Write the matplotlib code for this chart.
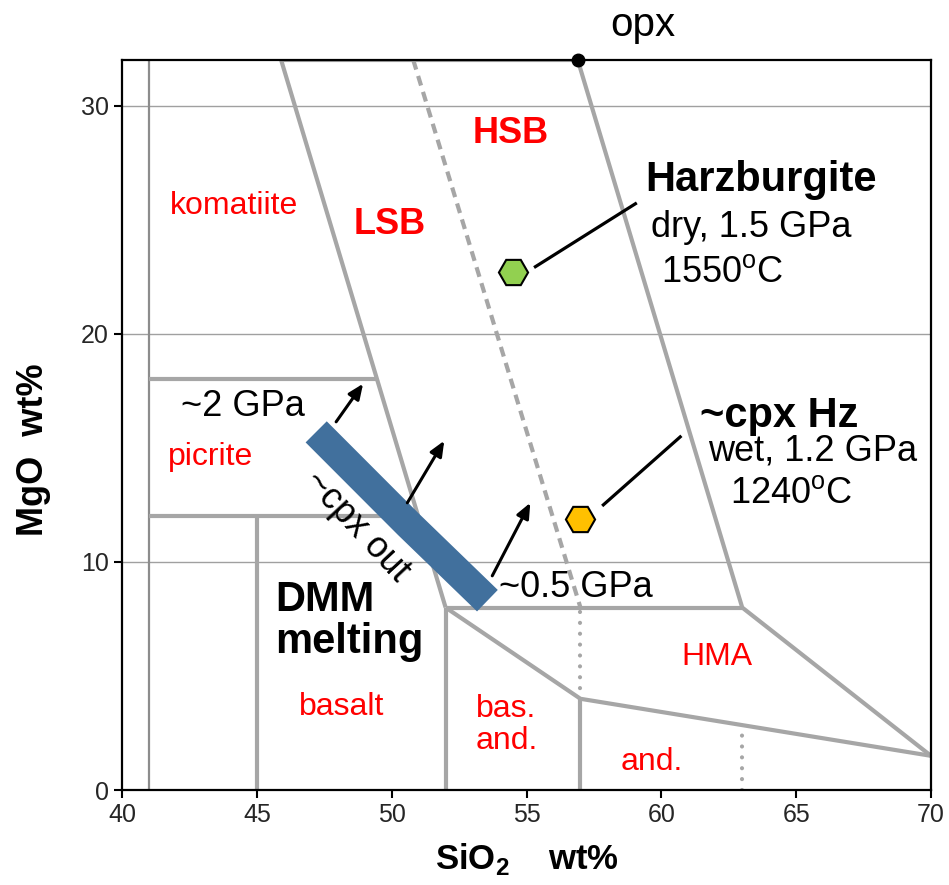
import numpy as np
import matplotlib.pyplot as plt

plt.rcParams['font.family'] = ['Liberation Sans', 'DejaVu Sans']
plt.rcParams['mathtext.fontset'] = 'custom'
plt.rcParams['mathtext.rm'] = 'Liberation Sans'
plt.rcParams['mathtext.bf'] = 'Liberation Sans:bold'

# field boundaries (SiO2, MgO)
komatiite_x = [41, 41]
komatiite_y = [0, 32]
picrite_top_x = [41, 49.46]
picrite_top_y = [18, 18]
picrite_bot_x = [41, 51]
picrite_bot_y = [12, 12]
basalt_left_x = [45, 45]
basalt_left_y = [0, 12]
lsb_x = [45.9, 52]
lsb_y = [32, 8]
top_x = [45.9, 56.9]
top_y = [32, 32]
opx_line_x = [56.9, 63, 70]
opx_line_y = [32, 8, 1.5]
hma_top_x = [52, 63]
hma_top_y = [8, 8]
and_top_x = [52, 57, 70]
and_top_y = [8, 4, 1.5]
bas_and_x = [52, 52]
bas_and_y = [0, 8]
and_left_x = [57, 57]
and_left_y = [0, 4]
hsb_x = [50.8, 57]
hsb_y = [32, 8]
dot1_x = [57, 57]
dot1_y = [4, 8]
dot2_x = [63, 63]
dot2_y = [0, 2.85]

# cpx-out band
band_x = [47.2, 50.62, 53.55]
band_y = [15.7, 11.65, 8.3]

# melting arrows (start, end)
arrows = [((47.94, 16.14), (48.94, 17.81)),
          ((50.58, 12.59), (51.95, 15.31)),
          ((53.73, 9.39), (55.14, 12.59))]

opx = (56.9, 32)
hz = (54.5, 22.7)
cpx_hz = (57.0, 11.9)

gray = '#A6A6A6'

fig = plt.figure(figsize=(9.49, 8.85), dpi=100)
ax = fig.add_axes([0.1286, 0.1073, 0.8524, 0.8249])

ax.plot(komatiite_x, komatiite_y, color='#8C8C8C', lw=1.6)
for xs, ys in [(picrite_top_x, picrite_top_y), (picrite_bot_x, picrite_bot_y),
               (basalt_left_x, basalt_left_y), (lsb_x, lsb_y), (top_x, top_y),
               (opx_line_x, opx_line_y), (hma_top_x, hma_top_y),
               (and_top_x, and_top_y), (bas_and_x, bas_and_y),
               (and_left_x, and_left_y)]:
    ax.plot(xs, ys, color=gray, lw=3, solid_capstyle='butt', solid_joinstyle='miter')
ax.plot(hsb_x, hsb_y, color=gray, lw=3, linestyle=(0, (2.4, 1.6)), dash_capstyle='butt')
for xs, ys in [(dot1_x, dot1_y), (dot2_x, dot2_y)]:
    ax.plot(xs, ys, color=gray, lw=3, linestyle=(0, (0.01, 2.6)), dash_capstyle='round')

ax.plot(band_x, band_y, color='#41709D', lw=21.5, solid_capstyle='butt',
        solid_joinstyle='round', zorder=4)

for (x0, y0), (x1, y1) in arrows:
    ax.annotate('', xy=(x1, y1), xytext=(x0, y0),
                arrowprops=dict(arrowstyle='-|>,head_length=0.7,head_width=0.3',
                                color='black', lw=2.2, shrinkA=0, shrinkB=0,
                                mutation_scale=13),
                zorder=5)

# connectors to the labels
ax.plot([55.33, 59.04], [22.94, 25.70], color='black', lw=2.3)
ax.plot([57.85, 60.7], [12.5, 15.48], color='black', lw=2.3)

ax.plot(*opx, 'o', color='black', ms=9, clip_on=False, zorder=6)
ax.plot(*hz, 'H', color='#92D050', mec='black', mew=1.5, ms=21, zorder=6)
ax.plot(*cpx_hz, 'H', color='#FFC000', mec='black', mew=1.5, ms=21, zorder=6)

red = '#FF0000'
ax.text(59.3, 33.55, 'opx', fontsize=29, ha='center', va='center')
ax.text(41.78, 25.6, 'komatiite', fontsize=23, color=red, va='center')
ax.text(48.57, 24.8, 'LSB', fontsize=26, color=red, weight='bold', va='center')
ax.text(53.0, 28.8, 'HSB', fontsize=26, color=red, weight='bold', va='center')
ax.text(59.4, 26.75, 'Harzburgite', fontsize=30, weight='bold', va='center')
ax.text(59.6, 24.65, 'dry, 1.5 GPa', fontsize=26, va='center')
ax.text(60.0, 22.7, '1550$^\\mathregular{o}$C', fontsize=26, va='center')
ax.text(61.45, 16.4, '~cpx Hz', fontsize=30, weight='bold', va='center')
ax.text(61.75, 14.87, 'wet, 1.2 GPa', fontsize=26, va='center')
ax.text(62.55, 13.0, '1240$^\\mathregular{o}$C', fontsize=26, va='center')
ax.text(42.2, 16.8, '~2 GPa', fontsize=26, va='center')
ax.text(41.7, 14.6, 'picrite', fontsize=23, color=red, va='center')
ax.text(48.7, 11.55, '~cpx out', fontsize=26, rotation=-47, ha='center', va='center',
        rotation_mode='anchor')
ax.text(53.99, 8.86, '~0.5 GPa', fontsize=26, va='center', zorder=5)
ax.text(45.68, 7.4, 'DMM\nmelting', fontsize=30, weight='bold', va='center',
        linespacing=1.05)
ax.text(46.57, 3.64, 'basalt', fontsize=23, color=red, va='center')
ax.text(53.13, 2.85, 'bas.\nand.', fontsize=23, color=red, va='center', linespacing=1.05)
ax.text(60.75, 5.83, 'HMA', fontsize=23, color=red, va='center')
ax.text(58.5, 1.23, 'and.', fontsize=23, color=red, va='center')

ax.set_xlim(40, 70)
ax.set_ylim(0, 32)
ax.set_xticks([40, 45, 50, 55, 60, 65, 70])
ax.set_yticks([0, 10, 20, 30])
ax.tick_params(labelsize=18, labelcolor='#262626', width=1.5, length=6, direction='out')
for y in [10, 20, 30]:
    ax.axhline(y, color='#A0A0A0', lw=1, zorder=0)
for s in ax.spines.values():
    s.set_linewidth(1.6)

ax.set_xlabel('SiO$_\\mathbf{2}$    wt%', fontsize=25, weight='bold', labelpad=10)
ax.set_ylabel('MgO  wt%', fontsize=26, weight='bold')
ax.yaxis.set_label_coords(-0.088, 0.466)

fig.savefig('out.png', dpi=100)
